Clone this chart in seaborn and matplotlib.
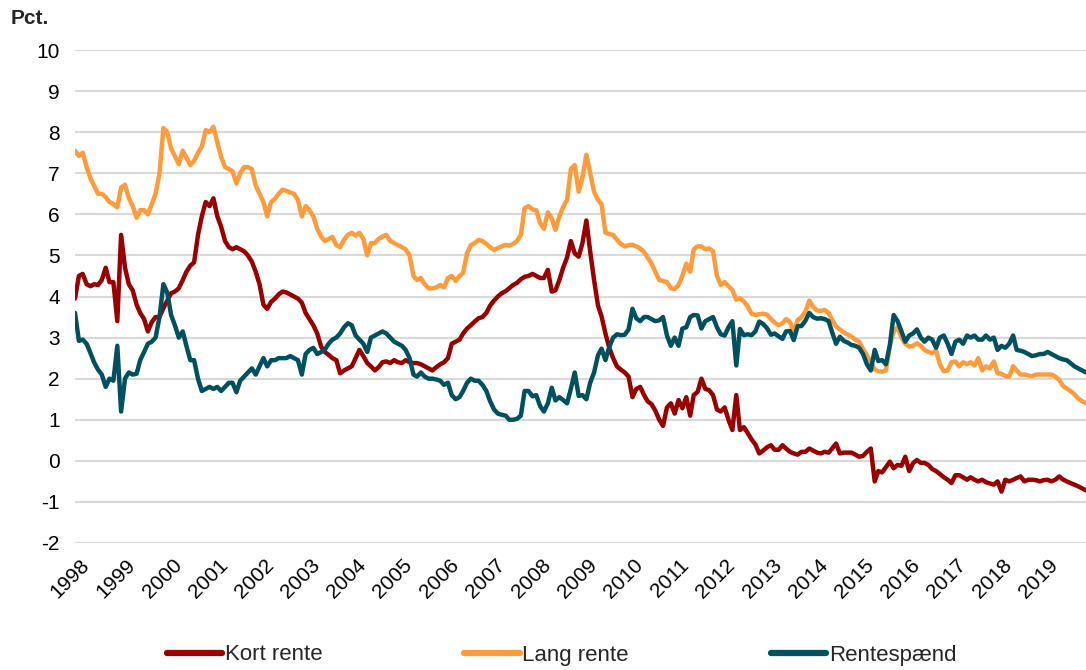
import pandas as pd
import matplotlib.pyplot as plt
import matplotlib.dates as mdates
import seaborn as sns

dates = pd.date_range('1997-10-01', periods=264, freq='MS')

kort_rente = [
    3.95, 4.5, 4.55, 4.3, 4.25, 4.3, 4.28, 4.4, 4.7, 4.35, 4.35, 3.4,
    5.5, 4.7, 4.3, 4.15, 3.8, 3.6, 3.45, 3.15, 3.38, 3.5, 3.5, 3.72,
    3.9, 4.08, 4.12, 4.2, 4.4, 4.6, 4.75, 4.83, 5.5, 5.95, 6.3, 6.2,
    6.39, 5.95, 5.7, 5.35, 5.2, 5.15, 5.2, 5.15, 5.1, 5.0, 4.85, 4.6,
    4.3, 3.8, 3.7, 3.87, 3.95, 4.05, 4.12, 4.1, 4.05, 4.0, 3.95, 3.85,
    3.6, 3.45, 3.3, 3.1, 2.78, 2.65, 2.58, 2.5, 2.45, 2.13, 2.2, 2.25,
    2.3, 2.5, 2.7, 2.55, 2.38, 2.3, 2.2, 2.28, 2.4, 2.42, 2.38, 2.45,
    2.4, 2.38, 2.45, 2.4, 2.38, 2.38, 2.35, 2.3, 2.25, 2.2, 2.28, 2.35,
    2.4, 2.5, 2.85, 2.9, 2.95, 3.1, 3.22, 3.3, 3.39, 3.47, 3.5, 3.6,
    3.78, 3.9, 4.0, 4.08, 4.13, 4.2, 4.28, 4.33, 4.42, 4.48, 4.5, 4.55,
    4.5, 4.45, 4.45, 4.65, 4.12, 4.15, 4.4, 4.7, 4.95, 5.35, 5.05, 4.97,
    5.3, 5.85, 5.1, 4.4, 3.78, 3.52, 3.1, 2.75, 2.5, 2.3, 2.22, 2.15,
    2.05, 1.55, 1.75, 1.8, 1.6, 1.45, 1.38, 1.22, 1.0, 0.85, 1.3, 1.4,
    1.15, 1.48, 1.28, 1.55, 1.1, 1.6, 1.68, 2.0, 1.75, 1.72, 1.6, 1.25,
    1.2, 1.3, 1.0, 0.75, 1.6, 0.75, 0.82, 0.68, 0.52, 0.4, 0.18, 0.25,
    0.33, 0.38, 0.27, 0.27, 0.38, 0.3, 0.22, 0.18, 0.15, 0.22, 0.22, 0.3,
    0.25, 0.2, 0.18, 0.22, 0.2, 0.3, 0.42, 0.18, 0.2, 0.2, 0.2, 0.15,
    0.1, 0.12, 0.22, 0.3, -0.5, -0.25, -0.28, -0.15, -0.02, -0.18, -0.1, -0.12,
    0.1, -0.25, -0.06, 0.02, -0.05, -0.05, -0.1, -0.2, -0.25, -0.32, -0.4, -0.46,
    -0.54, -0.35, -0.35, -0.4, -0.46, -0.4, -0.46, -0.5, -0.46, -0.52, -0.55, -0.58,
    -0.5, -0.75, -0.46, -0.5, -0.46, -0.42, -0.38, -0.5, -0.46, -0.46, -0.47, -0.5,
    -0.47, -0.46, -0.5, -0.46, -0.38, -0.45, -0.5, -0.54, -0.58, -0.62, -0.67, -0.72,
]

lang_rente = [
    7.55, 7.42, 7.5, 7.15, 6.87, 6.7, 6.5, 6.5, 6.42, 6.3, 6.25, 6.17,
    6.65, 6.72, 6.4, 6.2, 5.92, 6.1, 6.1, 6.0, 6.25, 6.5, 7.0, 8.1,
    8.0, 7.6, 7.42, 7.22, 7.55, 7.38, 7.2, 7.3, 7.5, 7.65, 8.05, 8.0,
    8.13, 7.75, 7.4, 7.15, 7.1, 7.05, 6.75, 7.0, 7.15, 7.15, 7.1, 6.7,
    6.5, 6.3, 5.95, 6.3, 6.38, 6.5, 6.6, 6.57, 6.53, 6.5, 6.35, 5.95,
    6.2, 6.1, 5.95, 5.65, 5.46, 5.35, 5.4, 5.45, 5.25, 5.2, 5.38, 5.5,
    5.55, 5.48, 5.55, 5.4, 5.0, 5.3, 5.3, 5.4, 5.46, 5.5, 5.35, 5.3,
    5.25, 5.2, 5.15, 5.0, 4.5, 4.4, 4.45, 4.3, 4.2, 4.2, 4.22, 4.28,
    4.22, 4.45, 4.5, 4.38, 4.5, 4.57, 5.05, 5.25, 5.3, 5.38, 5.35, 5.28,
    5.2, 5.13, 5.18, 5.22, 5.26, 5.24, 5.28, 5.35, 5.5, 6.15, 6.2, 6.12,
    6.1, 5.78, 5.65, 6.05, 5.9, 5.62, 5.95, 6.18, 6.35, 7.1, 7.2, 6.55,
    6.9, 7.45, 7.0, 6.55, 6.35, 6.25, 5.55, 5.52, 5.5, 5.38, 5.28, 5.22,
    5.25, 5.26, 5.22, 5.17, 5.08, 4.95, 4.8, 4.6, 4.4, 4.38, 4.35, 4.2,
    4.18, 4.28, 4.5, 4.8, 4.6, 5.15, 5.22, 5.22, 5.15, 5.17, 5.1, 4.5,
    4.28, 4.35, 4.25, 4.16, 3.92, 3.96, 3.88, 3.76, 3.58, 3.55, 3.57, 3.58,
    3.56, 3.45, 3.37, 3.3, 3.35, 3.45, 3.38, 3.12, 3.43, 3.5, 3.63, 3.9,
    3.75, 3.66, 3.65, 3.67, 3.6, 3.43, 3.27, 3.2, 3.12, 3.08, 3.02, 2.95,
    2.9, 2.72, 2.57, 2.4, 2.22, 2.18, 2.17, 2.2, 2.8, 3.15, 3.25, 3.0,
    2.85, 2.78, 2.8, 2.86, 2.8, 2.7, 2.65, 2.62, 2.68, 2.35, 2.18, 2.2,
    2.4, 2.42, 2.3, 2.4, 2.35, 2.4, 2.32, 2.5, 2.2, 2.3, 2.25, 2.42,
    2.13, 2.12, 2.06, 2.05, 2.3, 2.2, 2.1, 2.1, 2.08, 2.06, 2.1, 2.1,
    2.1, 2.1, 2.1, 2.05, 1.97, 1.83, 1.76, 1.7, 1.62, 1.52, 1.45, 1.4,
]

rentespaend = [
    3.6, 2.92, 2.95, 2.85, 2.62, 2.4, 2.22, 2.1, 1.8, 2.0, 1.95, 2.8,
    1.2, 2.0, 2.15, 2.1, 2.12, 2.45, 2.65, 2.85, 2.9, 3.0, 3.5, 4.3,
    4.1, 3.55, 3.3, 3.0, 3.15, 2.8, 2.45, 2.45, 2.0, 1.7, 1.75, 1.8,
    1.75, 1.8, 1.7, 1.8, 1.9, 1.9, 1.67, 1.95, 2.05, 2.15, 2.25, 2.1,
    2.3, 2.5, 2.3, 2.45, 2.45, 2.5, 2.5, 2.5, 2.55, 2.5, 2.45, 2.1,
    2.6, 2.7, 2.75, 2.6, 2.65, 2.7, 2.85, 2.95, 3.0, 3.1, 3.25, 3.35,
    3.3, 3.05, 2.95, 2.85, 2.65, 3.0, 3.05, 3.1, 3.15, 3.1, 3.0, 2.9,
    2.85, 2.8, 2.7, 2.5, 2.1, 2.05, 2.15, 2.05, 2.0, 2.0, 1.98, 1.95,
    1.85, 1.9, 1.6, 1.5, 1.55, 1.7, 1.9, 2.0, 1.95, 1.95, 1.85, 1.7,
    1.45, 1.25, 1.15, 1.12, 1.1, 1.0, 1.0, 1.02, 1.1, 1.7, 1.7, 1.57,
    1.6, 1.33, 1.2, 1.4, 1.78, 1.47, 1.55, 1.48, 1.4, 1.75, 2.15, 1.58,
    1.6, 1.5, 1.9, 2.15, 2.57, 2.73, 2.45, 2.77, 3.0, 3.08, 3.06, 3.07,
    3.2, 3.7, 3.47, 3.4, 3.5, 3.5, 3.45, 3.4, 3.42, 3.5, 3.05, 2.8,
    3.0, 2.8, 3.22, 3.25, 3.5, 3.55, 3.54, 3.22, 3.4, 3.45, 3.5, 3.25,
    3.08, 3.05, 3.25, 3.4, 2.32, 3.21, 3.06, 3.08, 3.06, 3.15, 3.39, 3.33,
    3.23, 3.07, 3.1, 3.03, 2.97, 3.15, 3.16, 2.94, 3.28, 3.28, 3.41, 3.6,
    3.5, 3.46, 3.47, 3.45, 3.4, 3.13, 2.85, 3.02, 2.92, 2.88, 2.82, 2.8,
    2.75, 2.6, 2.35, 2.2, 2.7, 2.43, 2.45, 2.35, 2.82, 3.55, 3.4, 3.15,
    2.9, 3.05, 3.1, 3.2, 3.0, 2.9, 3.0, 2.95, 2.75, 3.0, 3.05, 2.85,
    2.6, 2.9, 2.95, 2.85, 3.05, 3.0, 3.05, 2.95, 2.95, 3.05, 2.95, 3.0,
    2.7, 2.8, 2.75, 2.85, 3.05, 2.7, 2.68, 2.65, 2.6, 2.55, 2.57, 2.6,
    2.6, 2.65, 2.6, 2.55, 2.5, 2.47, 2.45, 2.38, 2.3, 2.25, 2.2, 2.15,
]

series_names = ['Kort rente', 'Lang rente', 'Rentespænd']
colors = ['#990000', '#FF9B3B', '#00505F']
y_ticks = list(range(-2, 11))

df = pd.DataFrame({
    'Dato': dates,
    'Kort rente': kort_rente,
    'Lang rente': lang_rente,
    'Rentespænd': rentespaend,
})
long_df = df.melt(id_vars='Dato', var_name='Serie', value_name='Pct')

sns.set_theme(style='white')
plt.rcParams['font.family'] = ['Liberation Sans', 'DejaVu Sans']
plt.rcParams['axes.unicode_minus'] = False

fig = plt.figure(figsize=(10.86, 6.70), dpi=100)
ax = fig.add_axes([75 / 1086, 1 - 543 / 670, (1086 - 75) / 1086, (543 - 50) / 670])

sns.lineplot(
    data=long_df, x='Dato', y='Pct', hue='Serie',
    hue_order=series_names, palette=dict(zip(series_names, colors)),
    estimator=None, linewidth=3.2, ax=ax,
)

# Axes styling
ax.set_xlim(dates[0], dates[-1])
ax.set_ylim(-2, 10)
ax.set_yticks(y_ticks)
ax.set_xlabel('')
ax.set_ylabel('')
ax.grid(axis='y', color='#D9D9D9', linewidth=1.5)
ax.set_axisbelow(True)
sns.despine(ax=ax, left=True, bottom=True)

ax.xaxis.set_major_locator(mdates.YearLocator())
ax.xaxis.set_major_formatter(mdates.DateFormatter('%Y'))
ax.tick_params(axis='y', length=0, pad=11, labelsize=15, labelcolor='black')
ax.tick_params(axis='x', length=0, pad=14, labelsize=15, labelcolor='black')
for lbl in ax.get_xticklabels():
    lbl.set_rotation(45)
    lbl.set_ha('right')
    lbl.set_va('center')
    lbl.set_rotation_mode('anchor')

fig.text(11 / 1086, 1 - 19 / 670, 'Pct.', fontsize=15, fontweight='bold',
         ha='left', va='center')

# Legend below the chart
handles, labels = ax.get_legend_handles_labels()
ax.get_legend().remove()
for h in handles:
    h.set_linewidth(4.5)
fig.legend(handles, labels, loc='center', bbox_to_anchor=(0.517, 1 - 655 / 670),
           ncol=3, frameon=False, fontsize=16, handlelength=2.5,
           handletextpad=0.1, columnspacing=6.4)

fig.savefig('out.png', dpi=100)
